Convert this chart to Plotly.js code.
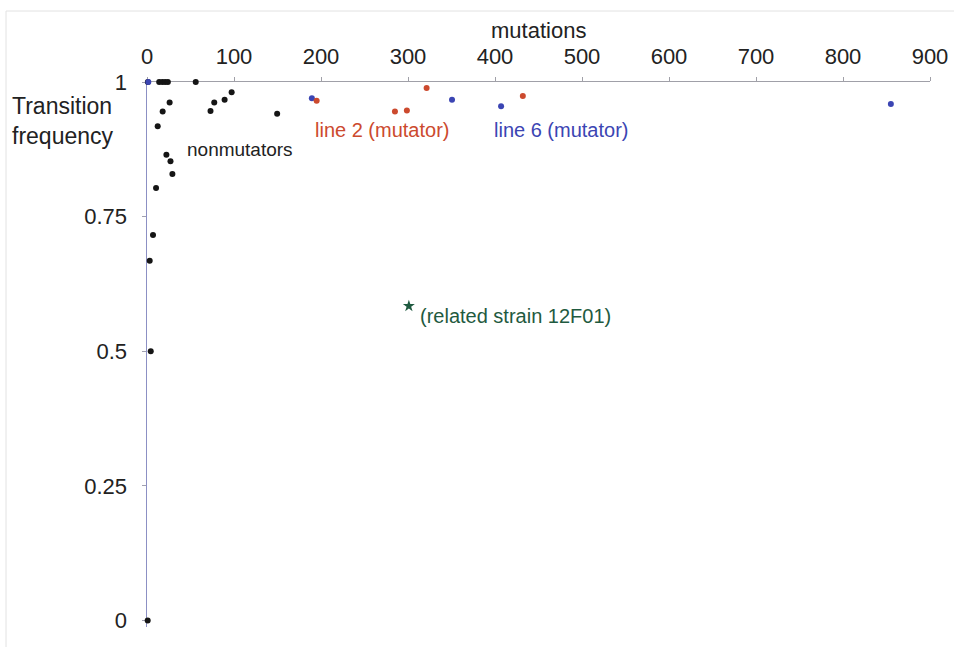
<!DOCTYPE html>
<html>
<head>
<meta charset="utf-8">
<script src="https://cdn.plot.ly/plotly-3.0.1.min.js"></script>
<style>html,body{margin:0;padding:0;background:#fff;}#chart{width:954px;height:647px;}</style>
</head>
<body>
<div id="chart"></div>
<script>
// Nonmutator lines (black)
const nonmutX = [1, 14, 17.6, 20.8, 24, 56, 26, 18, 12.3, 22.3, 27, 29.2, 10.4, 73, 77.3, 89.2, 97.3, 149.6, 6.9, 3.1, 4.3, 0.8];
const nonmutY = [1, 1, 1, 1, 1, 1, 0.962, 0.945, 0.918, 0.865, 0.853, 0.829, 0.803, 0.946, 0.962, 0.967, 0.981, 0.941, 0.716, 0.668, 0.500, 0];
// Line 2 (mutator, red)
const line2X = [195, 285, 298.7, 321.4, 432];
const line2Y = [0.965, 0.945, 0.947, 0.989, 0.974];
// Line 6 (mutator, blue)
const line6X = [1.5, 189.5, 350.6, 407, 855];
const line6Y = [1, 0.970, 0.967, 0.955, 0.959];
// Related strain 12F01 (green star)
const relatedX = [301];
const relatedY = [0.584];

const xTicks = [0, 100, 200, 300, 400, 500, 600, 700, 800, 900];
const yTicks = [0, 0.25, 0.5, 0.75, 1];
const yTickText = ['0', '0.25', '0.5', '0.75', '1'];

const FONT = 'Liberation Sans, Arial, Helvetica, sans-serif';
const RED = '#cc4a2e';
const BLUE = '#3b45b3';
const GREEN = '#1f5a40';

const traces = [
  {x: nonmutX, y: nonmutY, mode: 'markers', type: 'scatter', cliponaxis: false,
   marker: {color: '#151515', size: 6}},
  {x: line6X, y: line6Y, mode: 'markers', type: 'scatter', cliponaxis: false,
   marker: {color: BLUE, size: 6}},
  {x: line2X, y: line2Y, mode: 'markers', type: 'scatter', cliponaxis: false,
   marker: {color: RED, size: 6}},
  {x: relatedX, y: relatedY, mode: 'markers', type: 'scatter', cliponaxis: false,
   marker: {color: GREEN, size: 9, symbol: 'star'}}
];

const layout = {
  width: 954, height: 647,
  margin: {l: 147, r: 24, t: 82, b: 20},
  paper_bgcolor: '#fff', plot_bgcolor: '#fff',
  showlegend: false,
  font: {family: FONT, size: 21, color: '#222'},
  xaxis: {
    side: 'top', range: [0, 900], tickvals: xTicks, ticktext: xTicks.map(String),
    showgrid: false, zeroline: false, showline: true, linecolor: '#a0a0a8', linewidth: 1.5,
    ticks: 'outside', ticklen: 4, tickcolor: '#a0a0a8', tickwidth: 1,
    ticklabelstandoff: 4, layer: 'below traces',
    tickfont: {family: FONT, size: 22, color: '#222'}
  },
  yaxis: {
    range: [-0.012, 1], tickvals: yTicks, ticktext: yTickText,
    showgrid: false, zeroline: false, showline: true, linecolor: '#8c90c4', linewidth: 1.5,
    ticks: 'outside', ticklen: 4, tickcolor: '#a0a0b0', tickwidth: 1,
    ticklabelstandoff: 10, layer: 'below traces',
    tickfont: {family: FONT, size: 22, color: '#222'}
  },
  annotations: [
    {text: 'mutations', xref: 'paper', yref: 'paper', x: 0.5, y: 1 + (82 - 30) / 545,
     xanchor: 'center', yanchor: 'middle', showarrow: false, font: {family: FONT, size: 22, color: '#222'}},
    {text: 'Transition<br>frequency', xref: 'paper', yref: 'paper', x: (10 - 147) / 783, y: 1 - (121 - 82) / 545,
     xanchor: 'left', yanchor: 'middle', align: 'left', showarrow: false, font: {family: FONT, size: 23, color: '#222'}},
    {text: 'nonmutators', x: 43.5, y: 0.874, xanchor: 'left', yanchor: 'middle', showarrow: false,
     font: {family: FONT, size: 19, color: '#222'}},
    {text: 'line 2 (mutator)', x: 191, y: 0.911, xanchor: 'left', yanchor: 'middle', showarrow: false,
     font: {family: FONT, size: 20, color: RED}},
    {text: 'line 6 (mutator)', x: 396, y: 0.911, xanchor: 'left', yanchor: 'middle', showarrow: false,
     font: {family: FONT, size: 20, color: BLUE}},
    {text: '(related strain 12F01)', x: 312, y: 0.566, xanchor: 'left', yanchor: 'middle', showarrow: false,
     font: {family: FONT, size: 20, color: GREEN}}
  ],
  shapes: [
    {type: 'line', xref: 'paper', yref: 'paper', x0: (6 - 147) / 783, x1: 1.05, y0: 1 + (82 - 11) / 545, y1: 1 + (82 - 11) / 545,
     line: {color: '#e2e2e2', width: 1}},
    {type: 'line', xref: 'paper', yref: 'paper', x0: (6 - 147) / 783, x1: (6 - 147) / 783, y0: 1 + (82 - 11) / 545, y1: -0.05,
     line: {color: '#e2e2e2', width: 1}}
  ]
};

Plotly.newPlot('chart', traces, layout, {displayModeBar: false, staticPlot: true});
</script>
</body>
</html>
